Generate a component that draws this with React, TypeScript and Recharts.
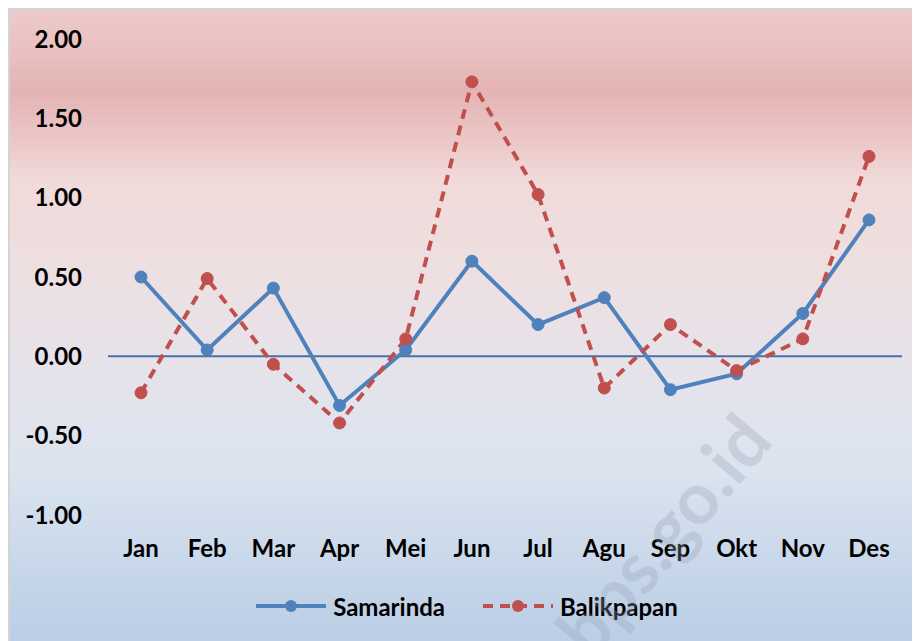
import { LineChart, Line, XAxis, YAxis, ReferenceLine, Legend } from 'recharts'

const months = ['Jan', 'Feb', 'Mar', 'Apr', 'Mei', 'Jun', 'Jul', 'Agu', 'Sep', 'Okt', 'Nov', 'Des']
const samarinda = [0.5, 0.04, 0.43, -0.31, 0.04, 0.6, 0.2, 0.37, -0.21, -0.11, 0.27, 0.86]
const balikpapan = [-0.23, 0.49, -0.05, -0.42, 0.11, 1.73, 1.02, -0.2, 0.2, -0.09, 0.11, 1.26]
const yTicks = [-1, -0.5, 0, 0.5, 1, 1.5, 2]

const BLUE = '#4f81bd'
const RED = '#c0504d'
const FONT = 'Lato, "Open Sans", sans-serif'

const data = months.map((m, i) => ({ month: m, Samarinda: samarinda[i], Balikpapan: balikpapan[i] }))

function LegendContent() {
  const item = (name: string, color: string, dashed: boolean, gap: number) => (
    <div style={{ display: 'flex', alignItems: 'center', marginRight: gap }}>
      <svg width={74} height={16} style={{ marginRight: 5 }}>
        <line x1={2} y1={8} x2={72} y2={8} stroke={color} strokeWidth={4}
          strokeDasharray={dashed ? '10 7' : undefined} />
        <circle cx={37} cy={8} r={6} fill={color} />
      </svg>
      <span style={{ fontSize: 24, fontWeight: 700, color: '#000' }}>{name}</span>
    </div>
  )
  return (
    <div style={{ display: 'flex', justifyContent: 'center', height: 40, alignItems: 'center', fontFamily: FONT, paddingLeft: 20 }}>
      {item('Samarinda', BLUE, false, 36)}
      {item('Balikpapan', RED, true, 0)}
    </div>
  )
}

export default function App() {
  return (
    <div
      style={{
        position: 'relative',
        width: 912,
        height: 633,
        boxSizing: 'border-box',
        borderLeft: '2px solid #d4d4d4',
        borderTop: '2px solid #d4d4d4',
        overflow: 'hidden',
        background:
          'linear-gradient(to bottom, #edcaca 0%, #e9c0c0 7%, #e4b3b3 12.5%, #ebc5c5 20%, #f1dada 27%, #eedfe0 40%, #e8e2e8 52%, #e3e3ec 62%, #dbe4ef 73%, #c9d8ea 87%, #bbcee6 100%)',
      }}
    >
      <LineChart width={910} height={631} data={data} margin={{ top: 29, right: 18, left: 0, bottom: 15 }}>
        <XAxis dataKey="month" axisLine={false} tickLine={false} height={71} tickMargin={19}
          padding={{ left: 33, right: 33 }}
          tick={{ fill: '#000', fontSize: 24, fontWeight: 700, fontFamily: FONT }} />
        <YAxis domain={[-1, 2]} ticks={yTicks} axisLine={false} tickLine={false} width={98} tickMargin={20}
          tickFormatter={(v: number) => v.toFixed(2)}
          tick={{ fill: '#000', fontSize: 24, fontWeight: 700, fontFamily: FONT }} />
        <ReferenceLine y={0} stroke="#4a6fa5" strokeWidth={2} />
        <Line dataKey="Samarinda" stroke={BLUE} strokeWidth={4} isAnimationActive={false}
          dot={{ r: 6, fill: BLUE, stroke: BLUE, strokeWidth: 1 }} activeDot={false} />
        <Line dataKey="Balikpapan" stroke={RED} strokeWidth={4} strokeDasharray="10 7" isAnimationActive={false}
          dot={{ r: 6, fill: RED, stroke: RED, strokeWidth: 1, strokeDasharray: '0' }} activeDot={false} />
        <Legend verticalAlign="bottom" height={40} content={<LegendContent />} />
      </LineChart>
      <div
        style={{
          position: 'absolute',
          left: 560,
          top: 590,
          fontFamily: FONT,
          fontWeight: 700,
          fontSize: 72,
          color: 'rgba(150,160,180,0.3)',
          transform: 'rotate(-50deg)',
          transformOrigin: 'left center',
          whiteSpace: 'nowrap',
          pointerEvents: 'none',
        }}
      >
        bps.go.id
      </div>
    </div>
  )
}
